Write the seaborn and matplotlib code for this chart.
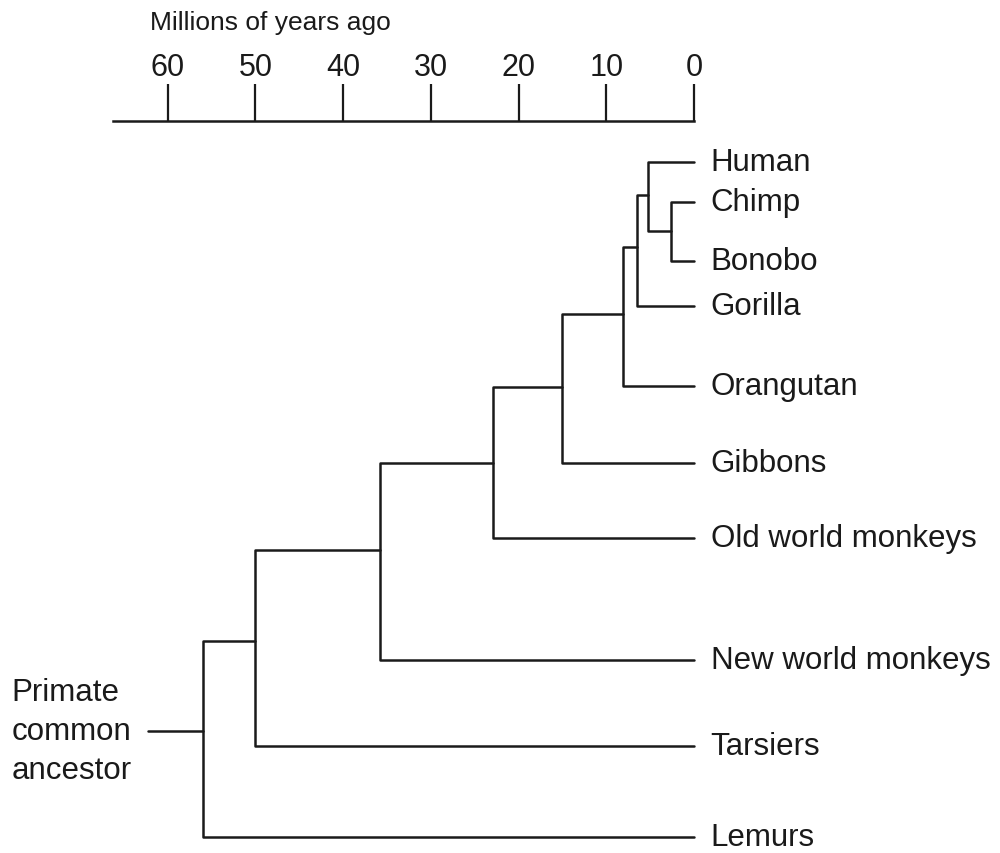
import pandas as pd
import seaborn as sns
import matplotlib.pyplot as plt

# leaves (top to bottom) and their vertical positions
leaves = ["Human", "Chimp", "Bonobo", "Gorilla", "Orangutan", "Gibbons",
          "Old world monkeys", "New world monkeys", "Tarsiers", "Lemurs"]
leaf_pos = [163, 203, 262, 307, 387, 464, 539, 661, 747, 838]

# internal nodes: age (millions of years ago), position where the parent joins, children
nodes = ["n_root", "n_tars", "n_nwm", "n_owm", "n_gib", "n_ora", "n_gor", "n_hum", "n_pan"]
node_age = [56.0, 50.0, 35.8, 22.9, 15.0, 8.1, 6.5, 5.2, 2.6]
node_pos = [732, 642, 551, 464, 388, 315, 248, 196, 232]
node_children = [
    ("n_tars", "Lemurs"),
    ("n_nwm", "Tarsiers"),
    ("n_owm", "New world monkeys"),
    ("n_gib", "Old world monkeys"),
    ("n_ora", "Gibbons"),
    ("n_gor", "Orangutan"),
    ("n_hum", "Gorilla"),
    ("Human", "n_pan"),
    ("Chimp", "Bonobo"),
]
stem_age = 62.3
scale_ticks = [60, 50, 40, 30, 20, 10, 0]
scale_start = 66.2

ink = "#1a1a1a"
sns.set_style("white")
plt.rcParams["font.family"] = ["Liberation Sans", "DejaVu Sans"]

age = dict(zip(leaves, [0.0] * len(leaves)))
age.update(dict(zip(nodes, node_age)))
pos = dict(zip(leaves, leaf_pos))
pos.update(dict(zip(nodes, node_pos)))

# one polyline per internal node: child1 -> node -> child2
rows = []
for name, (a, b) in zip(nodes, node_children):
    path = [(age[a], pos[a]), (age[name], pos[a]), (age[name], pos[b]), (age[b], pos[b])]
    for i, (t, y) in enumerate(path):
        rows.append({"seg": name, "order": i, "t": t, "y": y})
rows.append({"seg": "stem", "order": 0, "t": stem_age, "y": pos["n_root"]})
rows.append({"seg": "stem", "order": 1, "t": age["n_root"], "y": pos["n_root"]})
segs = pd.DataFrame(rows)

fig = plt.figure(figsize=(10, 8.54), dpi=100)
ax = fig.add_axes([0, 0, 1, 1])
sns.lineplot(data=segs, x="t", y="y", units="seg", estimator=None, sort=False,
             color=ink, linewidth=1.8, ax=ax)

ax.set_xlim(79.13, -34.9)
ax.set_ylim(854, 0)
ax.set_xlabel("")
ax.set_ylabel("")
ax.set_yticks([])

for s in ["left", "right", "bottom"]:
    ax.spines[s].set_visible(False)
ax.spines["top"].set_position(("data", 122))
ax.spines["top"].set_bounds(scale_start, 0)
ax.spines["top"].set_linewidth(1.8)
ax.spines["top"].set_color(ink)
ax.xaxis.set_ticks_position("top")
ax.set_xticks(scale_ticks)
ax.set_xticklabels([str(v) for v in scale_ticks])
ax.tick_params(axis="x", direction="out", length=27, width=1.6, pad=1,
               labelsize=22, colors=ink)

ax.text(62.0, 23, "Millions of years ago", fontsize=19, color=ink,
        ha="left", va="center")

for name, y in zip(leaves, leaf_pos):
    ax.text(-1.9, y, name, fontsize=22.5, color=ink, ha="left", va="center")

ax.text(77.8, pos["n_root"], "Primate\ncommon\nancestor", fontsize=22.5, color=ink,
        ha="left", va="center", linespacing=1.38)

fig.savefig("out.png", dpi=100)
